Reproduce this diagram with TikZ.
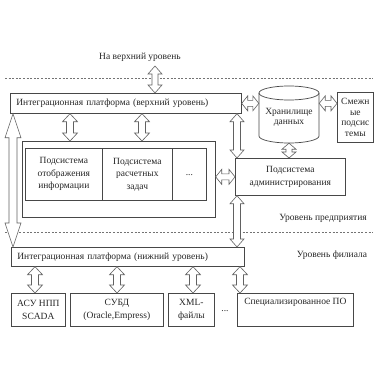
\documentclass[tikz,border=0pt]{standalone}
\usepackage{fontspec}
\setmainfont{Liberation Serif}
\usetikzlibrary{calc}
\tikzset{
  box/.style={draw=black!72, line width=0.7pt, rectangle, inner sep=0pt, anchor=north west,
              align=center, font=\fontsize{9.5}{12.5}\selectfont, text=black!85},
  lbl/.style={inner sep=0pt, align=center, font=\fontsize{9.5}{12.5}\selectfont, text=black!85},
  hollow/.style={draw=black!62, line width=0.6pt, fill=white, line join=miter},
  level/.style={draw=black!55, line width=0.6pt, dash pattern=on 2pt off 1.6pt},
  cylline/.style={draw=black!72, line width=0.7pt},
}
% #1 from, #2 to, #3 half shaft, #4 half head, #5 head length
\newcommand\dar[5]{%
  \coordinate (dA) at (#1);
  \coordinate (dB) at (#2);
  \draw[hollow] (dA)
    -- ($(dA)!#5!(dB)!#4!90:(dB)$)
    -- ($(dA)!#5!(dB)!#3!90:(dB)$)
    -- ($(dB)!#5!(dA)!#3!90:(dB)$)
    -- ($(dB)!#5!(dA)!#4!90:(dB)$)
    -- (dB)
    -- ($(dB)!#5!(dA)!#4!-90:(dB)$)
    -- ($(dB)!#5!(dA)!#3!-90:(dB)$)
    -- ($(dA)!#5!(dB)!#3!-90:(dB)$)
    -- ($(dA)!#5!(dB)!#4!-90:(dB)$)
    -- cycle;
}
\begin{document}
\begin{tikzpicture}[x=1pt,y=-1pt]
\useasboundingbox[fill=white] (0,0) rectangle (380,380);

% level separators
\draw[level] (5,78) -- (373,78);
\draw[level] (5,232) -- (373,232);

% texts
\node[lbl] (up) at (140,57) {На верхний уровень};
\node[lbl] (lvl1) at (323,218) {Уровень предприятия};
\node[lbl] (lvl2) at (332,255) {Уровень филиала};

% upper platform
\node[box, minimum width=231pt, minimum height=20pt, text width=219pt, align=left] (plat1) at (10,93)
  {Интеграционная платформа (верхний уровень)};

% storage cylinder (named frame + drawn body)
\node[inner sep=0pt, minimum width=60pt, minimum height=57pt] (cyl) at (289,114.5) {};
\draw[cylline, fill=white] (259,93) -- (259,136)
   arc[start angle=180, end angle=360, x radius=30pt, y radius=7pt] -- (319,93);
\draw[cylline] (289,93) ellipse [x radius=30pt, y radius=7pt];
\node[lbl, font=\fontsize{9.5}{10.5}\selectfont] (cylt) at (289,117.5) {Хранилище\\данных};

% adjacent subsystems
\node[box, minimum width=36pt, minimum height=50pt, font=\fontsize{9.5}{10.7}\selectfont] (adj) at (337,92)
  {Смежн\\ые\\подсис\\темы};

% enterprise block
\node[box, minimum width=193pt, minimum height=76pt] (ent) at (22,141) {};
\node[box, minimum width=77pt, minimum height=52pt] (c1) at (25,148)
  {Подсистема\\отображения\\информации};
\node[box, minimum width=70pt, minimum height=52pt] (c2) at (102,148)
  {Подсистема\\расчетных\\задач};
\node[box, minimum width=34pt, minimum height=52pt] (c3) at (172,148) {\raisebox{-3pt}{...}};

% administration
\node[box, minimum width=110pt, minimum height=37pt] (admin) at (235,158)
  {Подсистема\\администрирования};

% lower platform
\node[box, minimum width=233pt, minimum height=19pt, text width=221pt, align=left] (plat2) at (11,247)
  {Интеграционная платформа (нижний уровень)};

% bottom boxes
\node[box, minimum width=54pt, minimum height=33pt] (b1) at (11,293) {АСУ НПП\\SCADA};
\node[box, minimum width=93pt, minimum height=33pt] (b2) at (70,293) {СУБД\\(Oracle,Empress)};
\node[box, minimum width=46pt, minimum height=33pt] (b3) at (168,293) {XML-\\файлы};
\node[lbl] (dots) at (225,311) {...};
\node[box, minimum width=116pt, minimum height=33pt] (b4) at (237,293) {};
\node[lbl, anchor=north] (b4t) at ($(b4.north)+(0,-5pt)$) {Специализированное ПО};

% helper coordinates for arrow positions
\coordinate (t1) at (155,66);
\coordinate (a1) at (70,0);
\coordinate (a2) at (142,0);
\coordinate (aL) at (13,0);
\coordinate (aR) at (237,0);
\coordinate (x1) at (35,0);
\coordinate (x2) at (117,0);
\coordinate (x3) at (193,0);
\coordinate (x4) at (240,0);

% arrows
\dar{plat1.north -| t1}{t1}{3pt}{7pt}{8pt}
\dar{plat1.east}{cyl.west |- plat1.east}{3pt}{7.5pt}{6pt}
\dar{cyl.east |- plat1.east}{adj.west |- plat1.east}{3pt}{7.5pt}{6pt}
\dar{plat1.south -| a1}{ent.north -| a1}{3.5pt}{7.5pt}{8pt}
\dar{plat1.south -| a2}{ent.north -| a2}{3.5pt}{7.5pt}{8pt}
\dar{plat1.south -| aL}{plat2.north -| aL}{4pt}{8pt}{24pt}
\dar{plat1.south -| aR}{admin.north -| aR}{3.5pt}{7pt}{8pt}
\dar{admin.south -| aR}{plat2.north -| aR}{3.5pt}{7pt}{8pt}
\dar{cyl.south}{admin.north -| cyl.south}{3pt}{7pt}{6pt}
\dar{ent.east |- admin.west}{admin.west}{3pt}{7.5pt}{6pt}
\dar{plat2.south -| x1}{b1.north -| x1}{3.5pt}{7.5pt}{8pt}
\dar{plat2.south -| x2}{b2.north -| x2}{3.5pt}{7.5pt}{8pt}
\dar{plat2.south -| x3}{b3.north -| x3}{3.5pt}{7.5pt}{8pt}
\dar{plat2.south -| x4}{b4.north -| x4}{3.5pt}{7.5pt}{8pt}
\end{tikzpicture}
\end{document}
